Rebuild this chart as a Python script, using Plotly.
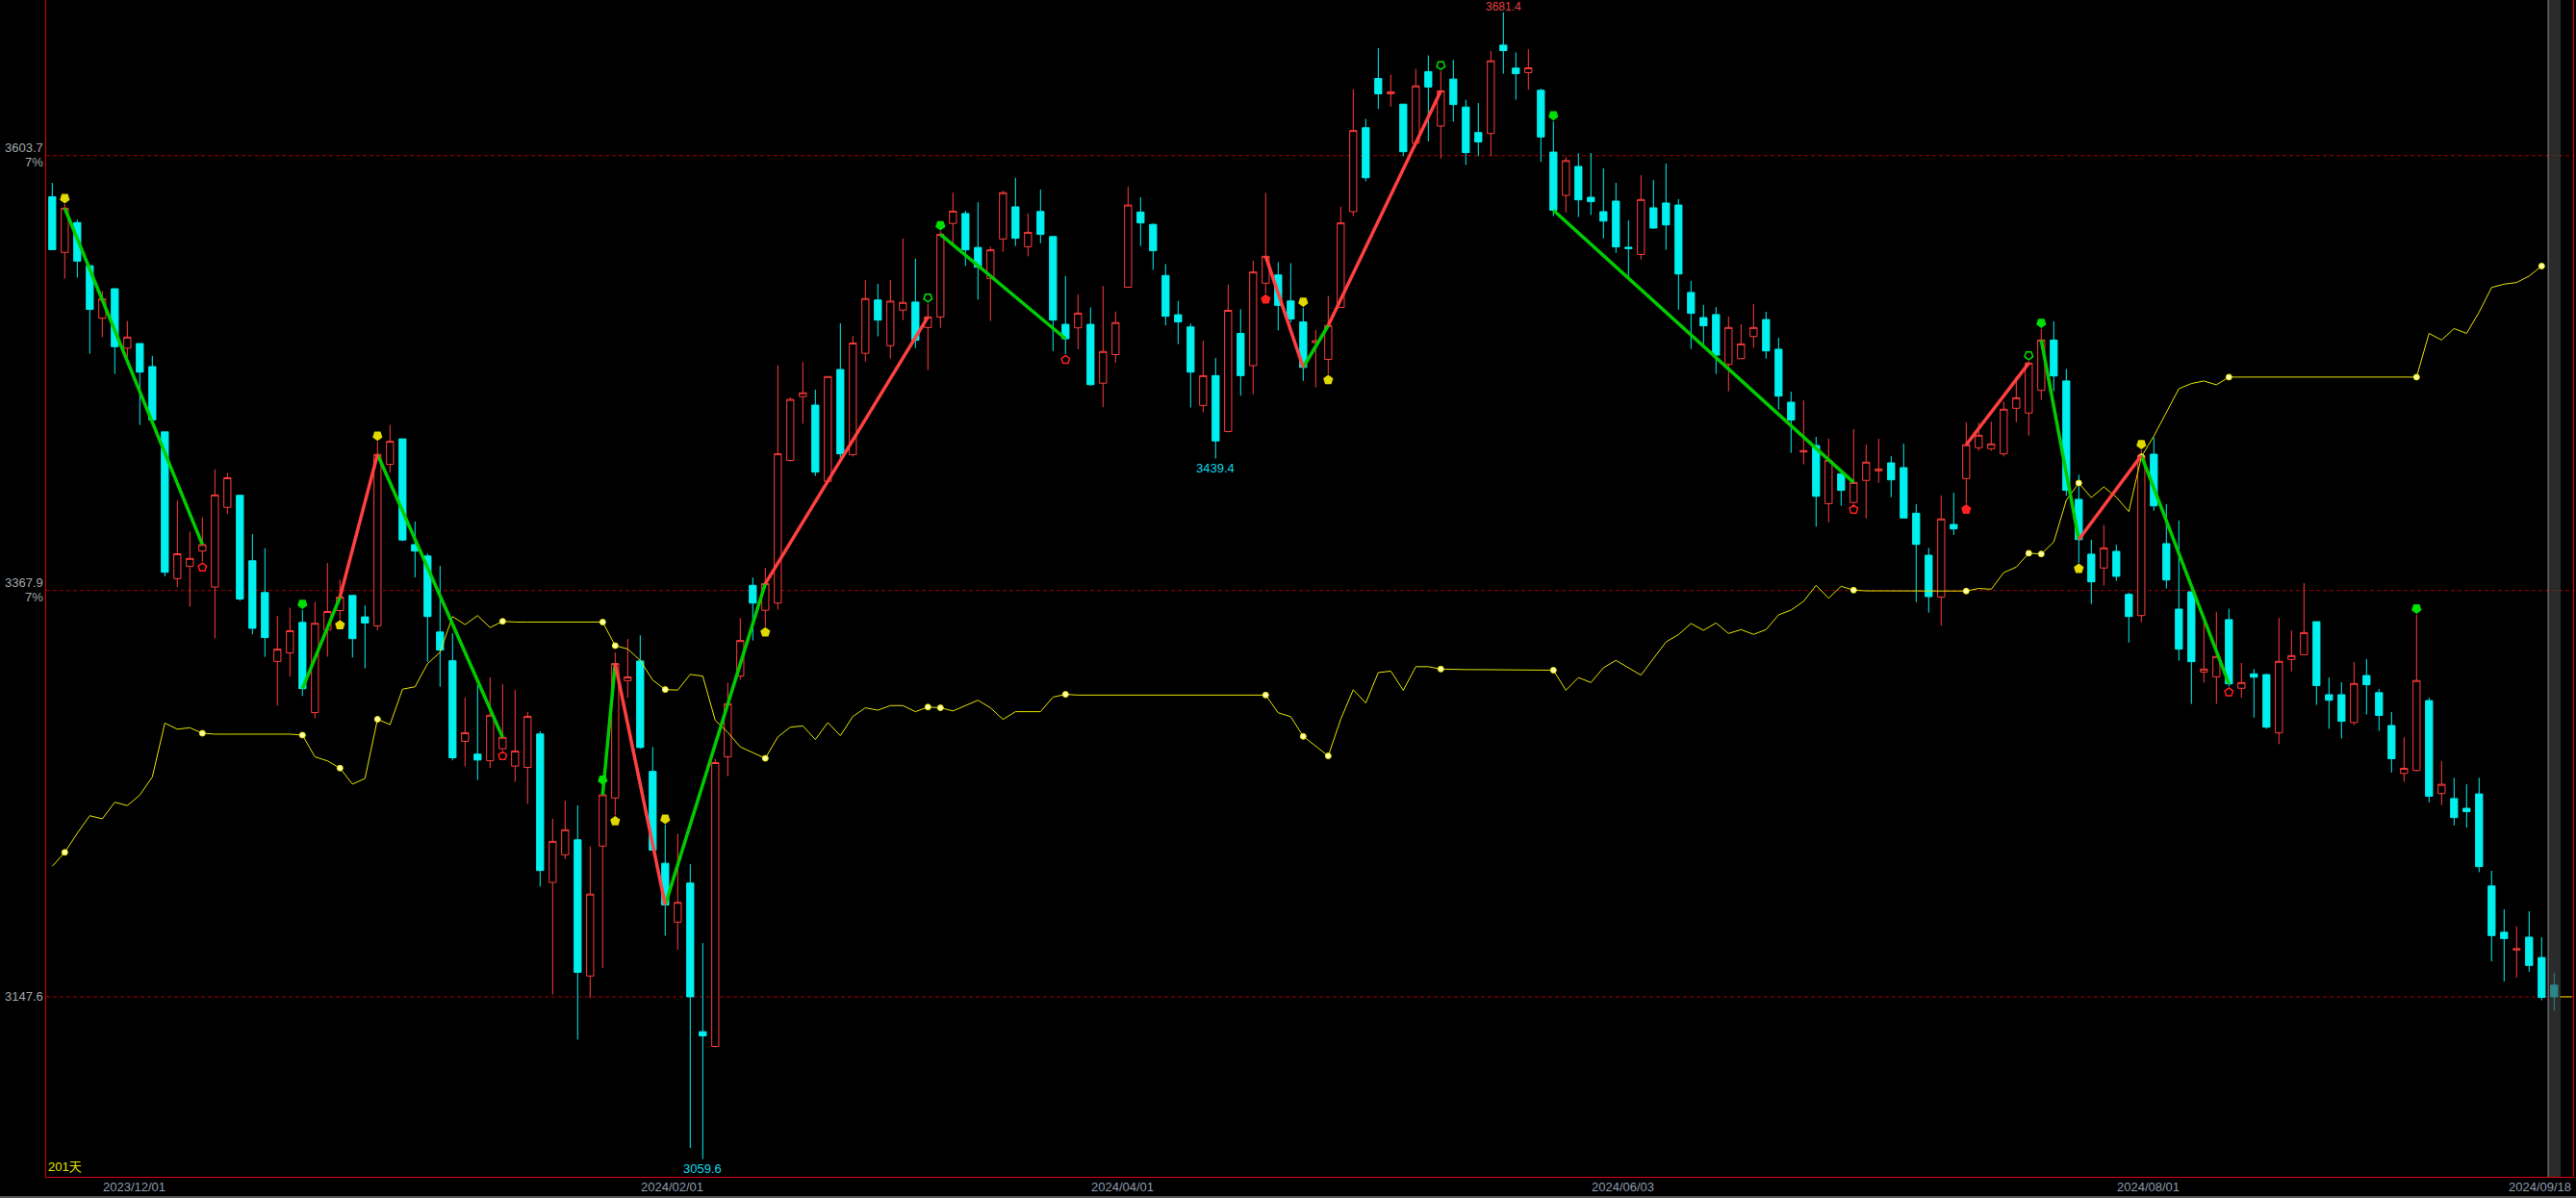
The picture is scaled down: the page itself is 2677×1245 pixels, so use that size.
import plotly.graph_objects as go

# ---------------- data ----------------
opens = [3581.4, 3551.2, 3567.4, 3544.0, 3515.5, 3531.5, 3499.3, 3501.8, 3489.3, 3453.9,
         3374.3, 3381.0, 3389.3, 3369.8, 3413.0, 3419.5, 3384.0, 3366.8, 3329.4, 3334.1,
         3350.6, 3301.7, 3346.5, 3357.0, 3365.2, 3353.6, 3348.7, 3436.3, 3450.1, 3392.8,
         3386.6, 3345.4, 3329.8, 3286.1, 3279.2, 3275.6, 3282.1, 3272.7, 3272.0, 3290.1,
         3209.6, 3224.6, 3232.7, 3158.9, 3229.3, 3255.4, 3319.0, 3329.7, 3269.8, 3220.0,
         3188.1, 3209.3, 3128.7, 3120.7, 3277.7, 3321.5, 3370.7, 3357.2, 3361.1, 3438.4,
         3473.0, 3468.4, 3427.1, 3487.7, 3441.5, 3496.5, 3525.4, 3500.6, 3519.9, 3524.3,
         3510.5, 3516.2, 3566.9, 3572.3, 3553.9, 3537.1, 3558.5, 3575.9, 3554.3, 3573.4,
         3559.8, 3512.2, 3510.3, 3512.2, 3480.3, 3495.8, 3532.3, 3573.1, 3566.4, 3538.7,
         3517.4, 3510.8, 3468.2, 3484.4, 3454.1, 3507.3, 3489.8, 3534.5, 3539.0, 3524.9,
         3513.5, 3502.3, 3493.2, 3521.4, 3573.3, 3618.8, 3645.5, 3637.2, 3631.6, 3610.4,
         3649.2, 3619.7, 3645.2, 3630.0, 3616.2, 3615.7, 3663.6, 3651.1, 3648.7, 3639.1,
         3605.6, 3582.1, 3597.8, 3581.1, 3573.3, 3579.0, 3554.0, 3550.1, 3575.4, 3578.0,
         3576.9, 3529.5, 3515.9, 3517.5, 3490.5, 3493.6, 3505.6, 3514.8, 3498.7, 3470.0,
         3443.0, 3446.5, 3415.0, 3431.2, 3415.6, 3427.6, 3432.8, 3437.1, 3434.5, 3409.8,
         3387.0, 3364.3, 3403.7, 3428.6, 3445.3, 3444.8, 3442.0, 3466.7, 3464.1, 3476.4,
         3503.7, 3481.5, 3417.3, 3387.6, 3380.1, 3389.1, 3365.8, 3354.3, 3441.8, 3393.3,
         3357.8, 3367.2, 3323.7, 3321.1, 3352.1, 3314.9, 3322.7, 3322.3, 3290.7, 3330.5,
         3333.1, 3351.0, 3311.4, 3311.4, 3296.3, 3321.8, 3312.5, 3294.7, 3268.7, 3270.3,
         3308.2, 3257.8, 3255.1, 3249.8, 3257.6, 3207.7, 3182.6, 3173.0, 3179.9, 3168.9,
         3153.9]

highs = [3588.9, 3577.4, 3568.9, 3544.0, 3530.3, 3531.5, 3514.0, 3501.8, 3495.1, 3453.9,
         3416.7, 3399.8, 3407.5, 3433.5, 3431.7, 3419.9, 3398.5, 3390.8, 3354.1, 3358.6,
         3357.4, 3361.8, 3382.8, 3373.7, 3365.2, 3359.9, 3448.6, 3457.7, 3450.1, 3405.3,
         3387.9, 3381.3, 3344.7, 3309.9, 3316.6, 3320.8, 3317.1, 3313.9, 3302.1, 3291.6,
         3244.2, 3254.0, 3251.4, 3229.1, 3262.1, 3334.3, 3341.6, 3343.6, 3283.1, 3240.9,
         3236.1, 3219.5, 3176.7, 3276.6, 3317.9, 3352.9, 3375.0, 3380.1, 3490.0, 3472.6,
         3491.8, 3476.8, 3483.9, 3512.8, 3505.9, 3536.3, 3534.2, 3536.3, 3558.7, 3547.8,
         3523.5, 3562.7, 3583.6, 3573.8, 3578.4, 3554.3, 3584.7, 3591.6, 3572.3, 3585.3,
         3559.8, 3538.4, 3528.5, 3521.4, 3533.1, 3519.1, 3586.8, 3581.1, 3566.9, 3544.9,
         3524.9, 3512.7, 3503.3, 3494.0, 3533.7, 3520.4, 3546.7, 3583.5, 3545.9, 3545.4,
         3521.2, 3509.2, 3527.6, 3576.0, 3639.6, 3623.6, 3662.0, 3647.6, 3631.6, 3650.8,
         3658.0, 3649.5, 3655.6, 3634.0, 3632.2, 3660.4, 3681.4, 3659.6, 3661.4, 3639.9,
         3622.3, 3602.9, 3605.0, 3605.1, 3596.8, 3588.9, 3568.6, 3593.1, 3590.5, 3599.4,
         3580.1, 3535.7, 3522.7, 3521.6, 3516.4, 3512.2, 3523.2, 3519.0, 3504.9, 3475.7,
         3471.0, 3451.2, 3450.2, 3431.2, 3455.4, 3447.0, 3450.2, 3440.8, 3447.5, 3414.7,
         3391.0, 3419.4, 3420.9, 3459.0, 3458.9, 3459.5, 3470.3, 3484.1, 3492.2, 3509.8,
         3513.8, 3488.0, 3430.7, 3395.4, 3403.5, 3392.8, 3366.7, 3444.0, 3451.0, 3414.7,
         3405.8, 3367.2, 3350.7, 3356.3, 3358.0, 3328.6, 3325.3, 3322.8, 3353.1, 3346.2,
         3371.9, 3351.0, 3320.7, 3318.2, 3329.1, 3330.7, 3314.5, 3302.0, 3288.3, 3354.9,
         3309.8, 3275.4, 3266.4, 3262.8, 3266.4, 3215.9, 3195.1, 3185.8, 3194.0, 3179.9,
         3160.7]

lows = [3552.7, 3537.0, 3537.5, 3496.3, 3505.3, 3485.3, 3494.6, 3457.6, 3460.4, 3375.6,
        3369.8, 3359.1, 3383.6, 3341.9, 3409.3, 3362.3, 3344.1, 3331.9, 3305.5, 3321.2,
        3310.7, 3298.7, 3332.0, 3352.3, 3331.6, 3325.7, 3346.3, 3431.8, 3394.6, 3375.0,
        3329.3, 3315.7, 3275.8, 3272.5, 3265.1, 3271.6, 3281.4, 3264.2, 3252.2, 3207.4,
        3148.8, 3222.3, 3124.4, 3146.8, 3163.2, 3246.0, 3309.7, 3282.0, 3227.1, 3180.7,
        3173.1, 3065.6, 3059.6, 3120.2, 3267.2, 3319.6, 3340.8, 3348.4, 3357.5, 3437.8,
        3458.3, 3430.0, 3427.1, 3439.4, 3440.5, 3492.1, 3505.7, 3493.7, 3514.5, 3499.4,
        3487.4, 3510.3, 3555.4, 3543.8, 3525.6, 3514.1, 3551.6, 3554.7, 3549.1, 3556.2,
        3497.7, 3496.2, 3498.8, 3478.9, 3467.3, 3491.4, 3532.3, 3554.7, 3541.7, 3511.6,
        3501.5, 3467.1, 3464.5, 3439.4, 3453.6, 3473.5, 3474.3, 3528.9, 3508.9, 3513.2,
        3481.5, 3478.1, 3485.2, 3521.4, 3570.9, 3589.8, 3629.0, 3630.3, 3603.4, 3610.4,
        3611.4, 3602.1, 3622.1, 3598.6, 3603.4, 3603.4, 3648.1, 3634.0, 3639.4, 3600.2,
        3570.9, 3572.8, 3570.4, 3571.5, 3558.8, 3551.0, 3537.6, 3547.4, 3563.9, 3552.6,
        3520.2, 3498.8, 3501.4, 3485.3, 3475.9, 3493.3, 3499.5, 3493.6, 3466.0, 3442.5,
        3436.3, 3402.5, 3404.9, 3413.8, 3415.0, 3407.0, 3426.3, 3418.5, 3407.2, 3361.6,
        3355.9, 3348.8, 3398.0, 3415.0, 3443.7, 3443.6, 3440.6, 3459.2, 3451.9, 3471.2,
        3476.0, 3419.4, 3382.9, 3360.6, 3370.5, 3373.1, 3339.7, 3350.7, 3411.2, 3369.0,
        3329.8, 3306.4, 3318.0, 3306.4, 3315.9, 3309.8, 3299.0, 3292.9, 3284.6, 3324.1,
        3333.0, 3305.9, 3292.9, 3287.7, 3294.9, 3300.7, 3291.8, 3269.2, 3264.2, 3269.9,
        3253.0, 3251.6, 3240.5, 3239.4, 3215.2, 3166.9, 3155.9, 3158.0, 3161.2, 3145.7,
        3140.0]

closes = [3552.7, 3575.2, 3546.5, 3520.3, 3526.0, 3500.1, 3505.3, 3486.3, 3460.4, 3377.8,
          3387.8, 3385.3, 3392.8, 3419.7, 3429.0, 3363.3, 3347.4, 3342.4, 3336.1, 3346.1,
          3314.7, 3350.1, 3356.5, 3364.3, 3341.8, 3350.3, 3441.7, 3448.8, 3395.3, 3389.3,
          3353.8, 3335.6, 3277.2, 3290.8, 3276.0, 3300.3, 3288.3, 3280.9, 3299.7, 3216.1,
          3231.9, 3238.2, 3160.9, 3203.3, 3257.1, 3328.3, 3321.0, 3282.8, 3227.1, 3197.4,
          3198.8, 3147.6, 3126.4, 3274.6, 3306.5, 3340.8, 3361.1, 3371.6, 3442.0, 3471.5,
          3475.1, 3432.1, 3483.9, 3442.0, 3502.1, 3526.2, 3514.5, 3524.8, 3524.1, 3503.6,
          3516.2, 3561.0, 3573.6, 3552.6, 3543.2, 3552.6, 3583.6, 3558.9, 3562.1, 3561.0,
          3514.5, 3504.4, 3518.3, 3479.5, 3497.5, 3513.2, 3576.9, 3567.2, 3552.1, 3516.6,
          3513.5, 3486.3, 3484.4, 3449.0, 3519.8, 3484.4, 3540.6, 3549.1, 3522.5, 3515.1,
          3488.9, 3503.3, 3511.6, 3567.2, 3617.3, 3591.7, 3637.2, 3638.3, 3605.8, 3641.5,
          3640.9, 3638.8, 3631.4, 3605.3, 3611.1, 3655.1, 3660.6, 3648.1, 3651.3, 3613.8,
          3574.1, 3601.0, 3579.7, 3578.7, 3568.2, 3554.2, 3553.3, 3579.9, 3564.4, 3566.1,
          3539.5, 3518.2, 3511.4, 3495.5, 3510.5, 3501.6, 3510.5, 3497.8, 3473.3, 3460.3,
          3443.7, 3419.0, 3438.5, 3422.2, 3426.5, 3437.5, 3433.8, 3427.9, 3407.2, 3392.9,
          3364.6, 3406.7, 3401.3, 3446.9, 3452.1, 3447.4, 3466.2, 3472.4, 3491.2, 3503.7,
          3484.2, 3422.2, 3395.5, 3372.6, 3391.0, 3375.6, 3353.8, 3441.1, 3413.8, 3373.6,
          3336.1, 3329.3, 3325.3, 3332.1, 3317.3, 3318.0, 3320.9, 3293.8, 3329.5, 3332.6,
          3345.1, 3316.4, 3308.4, 3297.0, 3317.5, 3316.8, 3300.2, 3276.7, 3271.5, 3319.1,
          3256.4, 3262.8, 3244.8, 3248.0, 3218.2, 3180.8, 3179.2, 3173.7, 3164.6, 3147.3,
          3147.6]

# yellow indicator line
yline = [3218.4, 3225.9, 3236.3, 3245.8, 3244.1, 3253.1, 3251.3, 3257.0, 3266.8, 3296.0,
         3292.7, 3293.5, 3290.5, 3290.0, 3290.0, 3290.0, 3290.0, 3290.0, 3290.0, 3290.0,
         3289.5, 3277.7, 3275.5, 3271.6, 3262.9, 3266.0, 3298.1, 3295.2, 3314.4, 3315.7,
         3328.2, 3334.4, 3353.8, 3349.4, 3354.3, 3347.8, 3351.2, 3350.8, 3350.8, 3350.8,
         3350.8, 3350.8, 3350.8, 3350.8, 3350.8, 3338.0, 3336.2, 3330.0, 3319.3, 3314.2,
         3313.9, 3322.4, 3321.5, 3297.5, 3291.0, 3283.1, 3280.2, 3276.9, 3288.5, 3293.8,
         3294.5, 3287.1, 3296.3, 3289.2, 3299.6, 3304.3, 3303.0, 3305.5, 3305.5, 3302.2,
         3304.7, 3304.3, 3302.6, 3305.5, 3308.4, 3304.3, 3298.0, 3302.2, 3302.2, 3302.2,
         3310.1, 3311.6, 3311.2, 3311.2, 3311.2, 3311.2, 3311.2, 3311.2, 3311.2, 3311.2,
         3311.2, 3311.2, 3311.2, 3311.2, 3311.2, 3311.2, 3311.2, 3311.2, 3301.6, 3299.5,
         3288.8, 3283.5, 3278.2, 3298.1, 3314.1, 3306.9, 3323.4, 3324.2, 3313.8, 3326.6,
         3326.6, 3325.3, 3325.0, 3325.0, 3325.0, 3325.0, 3325.0, 3325.0, 3325.0, 3325.0,
         3324.7, 3313.8, 3320.7, 3318.0, 3326.0, 3330.0, 3326.0, 3322.0, 3331.0, 3340.0,
         3344.0, 3350.0, 3346.3, 3350.3, 3344.6, 3346.7, 3344.1, 3346.7, 3354.7, 3357.3,
         3362.0, 3370.7, 3363.7, 3370.2, 3368.1, 3367.7, 3367.7, 3367.7, 3367.7, 3367.7,
         3367.7, 3367.7, 3367.7, 3367.6, 3369.0, 3368.6, 3377.6, 3380.6, 3388.1, 3387.7,
         3394.2, 3416.8, 3426.2, 3418.3, 3424.1, 3418.5, 3410.7, 3440.4, 3451.6, 3464.6,
         3477.3, 3480.1, 3481.5, 3479.4, 3483.6, 3483.6, 3483.6, 3483.6, 3483.6, 3483.6,
         3483.6, 3483.6, 3483.6, 3483.6, 3483.6, 3483.6, 3483.6, 3483.6, 3483.6, 3483.6,
         3507.3, 3503.7, 3509.9, 3507.3, 3518.8, 3532.2, 3534.0, 3534.9, 3538.4, 3543.8,
         None]

dot_idx = [1, 12, 20, 23, 26, 36, 44, 45, 49, 57, 70, 71, 81, 97, 100, 102, 111, 120,
           144, 153, 158, 159, 162, 167, 174, 189, 199]

# zigzag legs (from pivot, to pivot, colour)
zz_from = [1, 20, 23, 26, 44, 45, 49, 57, 71, 97, 100, 102, 120, 153, 159, 162, 167]
zz_to = [12, 23, 26, 36, 45, 49, 57, 70, 81, 100, 102, 111, 144, 158, 162, 167, 174]
zz_col = ['g', 'g', 'r', 'g', 'g', 'r', 'g', 'r', 'g', 'r', 'g', 'r', 'g', 'r', 'g', 'r', 'g']

# signal arrows: (index, above/below, colour key, filled)
signals = [(1, 'a', 'y', True), (20, 'a', 'g', True), (26, 'a', 'y', True), (44, 'a', 'g', True),
           (49, 'a', 'y', True), (70, 'a', 'g', False), (71, 'a', 'g', True), (100, 'a', 'y', True),
           (111, 'a', 'g', False), (120, 'a', 'g', True), (158, 'a', 'g', False), (159, 'a', 'g', True),
           (167, 'a', 'y', True), (189, 'a', 'g', True),
           (12, 'b', 'r', False), (23, 'b', 'y', True), (36, 'b', 'r', False), (45, 'b', 'y', True),
           (57, 'b', 'y', True), (81, 'b', 'r', False), (97, 'b', 'r', True), (102, 'b', 'y', True),
           (144, 'b', 'r', False), (153, 'b', 'r', True), (162, 'b', 'y', True), (174, 'b', 'r', False)]

ref_levels = [3603.7, 3367.9, 3147.6]
ref_texts = ['3603.7', '3367.9', '3147.6']
ref_pct = ['7%', '7%', '']

date_labels = ['2023/12/01', '2024/02/01', '2024/04/01', '2024/06/03', '2024/08/01', '2024/09/18']
date_idx = [7, 50, 86, 126, 168, 200]

hi_idx, lo1_idx, lo2_idx = 116, 93, 52
bar_count_text = '201天'

# ---------------- styling ----------------
CYAN = '#00f0f0'
RED = '#ff3c3c'
ZRED = '#ff4040'
GREEN = '#00cc00'
YEL = '#e6e600'
SIG = {'y': '#e0d800', 'g': '#00e000', 'r': '#ff2020'}
FONT = 'Liberation Sans, Arial, Noto Sans CJK SC, sans-serif'

N = len(closes)
xs = list(range(N))

fig = go.Figure()

fig.add_trace(go.Candlestick(
    x=xs, open=opens, high=highs, low=lows, close=closes,
    increasing=dict(line=dict(color=RED, width=1), fillcolor='#000000'),
    decreasing=dict(line=dict(color=CYAN, width=1), fillcolor=CYAN),
    whiskerwidth=0, hoverinfo='skip', showlegend=False))

fig.add_trace(go.Scatter(x=xs, y=yline, mode='lines', line=dict(color=YEL, width=1),
                         hoverinfo='skip', showlegend=False))
fig.add_trace(go.Scatter(x=dot_idx, y=[yline[i] for i in dot_idx], mode='markers',
                         marker=dict(size=6, color='#ffffb0', line=dict(color=YEL, width=1)),
                         hoverinfo='skip', showlegend=False))

for key, colr in (('g', GREEN), ('r', ZRED)):
    zx, zy = [], []
    for a, b, k in zip(zz_from, zz_to, zz_col):
        if k == key:
            zx += [a, b, None]
            zy += [closes[a], closes[b], None]
    fig.add_trace(go.Scatter(x=zx, y=zy, mode='lines', line=dict(color=colr, width=3.5),
                             hoverinfo='skip', showlegend=False))

for idx, pos, ck, filled in signals:
    if pos == 'a':
        yv = highs[idx] + 3.2
        ang = 180
    else:
        yv = lows[idx] - 3.2
        ang = 0
    sym = 'pentagon' if filled else 'pentagon-open'
    fig.add_trace(go.Scatter(x=[idx], y=[yv], mode='markers',
                             marker=dict(symbol=sym, size=9, angle=ang, color=SIG[ck],
                                         line=dict(color=SIG[ck], width=1.5)),
                             hoverinfo='skip', showlegend=False))

# last price tick line to the right of the final bar
fig.add_trace(go.Scatter(x=[N - 1 + 0.45, N - 1 + 1.45], y=[closes[-1], closes[-1]], mode='lines',
                         line=dict(color=YEL, width=1), hoverinfo='skip', showlegend=False))

shapes = []
for lv in ref_levels:
    shapes.append(dict(type='line', xref='paper', x0=0, x1=1, yref='y', y0=lv, y1=lv,
                       line=dict(color='#a00000', width=1, dash='4px,3px'), layer='below'))
# highlighted last bar
shapes.append(dict(type='rect', xref='x', x0=N - 1.48, x1=N - 0.48, yref='paper', y0=0, y1=1,
                   fillcolor='rgba(70,70,70,0.62)', line=dict(width=0), layer='above'))
shapes.append(dict(type='line', xref='x', x0=N - 1.48, x1=N - 1.48, yref='paper', y0=0, y1=1,
                   line=dict(color='#8a8a8a', width=1), layer='above'))
# bottom window strip
shapes.append(dict(type='rect', xref='paper', x0=-0.02, x1=1.01, yref='paper', y0=-0.0185, y1=-0.0163,
                   fillcolor='#555555', line=dict(width=0)))

ann = []
for lv, t, p in zip(ref_levels, ref_texts, ref_pct):
    ann.append(dict(xref='paper', x=0, xanchor='right', xshift=-1, yref='y', y=lv,
                    yanchor='middle', yshift=8 if p else 0, text=t, showarrow=False,
                    font=dict(size=13, color='#a4a8ac', family=FONT)))
    if p:
        ann.append(dict(xref='paper', x=0, xanchor='right', xshift=-1, yref='y', y=lv,
                        yanchor='middle', yshift=-7, text=p, showarrow=False,
                        font=dict(size=13, color='#a4a8ac', family=FONT)))

for k, (lab, di) in enumerate(zip(date_labels, date_idx)):
    last = (k == len(date_labels) - 1)
    ann.append(dict(xref='x', x=di, xanchor='right' if last else 'center', xshift=20 if last else -6,
                    yref='paper', y=0, yanchor='middle', yshift=-10, text=lab, showarrow=False,
                    font=dict(size=13, color='#8e9cae', family=FONT)))

# highest price label, kept fully inside the top edge
ann.append(dict(xref='x', x=hi_idx, yref='paper', y=1, yanchor='top', yshift=1,
                text=f'{highs[hi_idx]:.1f}', showarrow=False, borderpad=0,
                font=dict(size=12, color='#e04040', family=FONT)))
for li in (lo1_idx, lo2_idx):
    ann.append(dict(xref='x', x=li, y=lows[li], yanchor='top', yshift=0,
                    text=f'{lows[li]:.1f}', showarrow=False,
                    font=dict(size=13, color='#10d8e8', family=FONT)))

ann.append(dict(xref='paper', x=0, xanchor='left', xshift=0, yref='paper', y=0, yanchor='bottom',
                yshift=1, text=bar_count_text, showarrow=False,
                font=dict(size=13, color='#e6e600', family=FONT)))

fig.update_layout(
    width=2677, height=1245,
    margin=dict(l=48, r=3, t=0, b=22),
    paper_bgcolor='#000000', plot_bgcolor='#000000',
    showlegend=False, boxgap=0.2,
    font=dict(family=FONT, size=13, color='#a4a8ac'),
    shapes=shapes, annotations=ann,
)
fig.update_xaxes(range=[-0.485, 201.515], showgrid=False, zeroline=False, showticklabels=False,
                 ticks='', rangeslider_visible=False, showline=True, linecolor='#e00000',
                 linewidth=1, mirror=False, fixedrange=True)
fig.update_yaxes(range=[3050.0, 3688.06], showgrid=False, zeroline=False, showticklabels=False,
                 ticks='', showline=True, linecolor='#e00000', linewidth=1, mirror=True,
                 fixedrange=True)

fig.write_html("out.html", config={'displayModeBar': False},
               post_script="document.body.style.margin='0';document.documentElement.style.overflow='hidden';document.body.style.overflow='hidden';")
